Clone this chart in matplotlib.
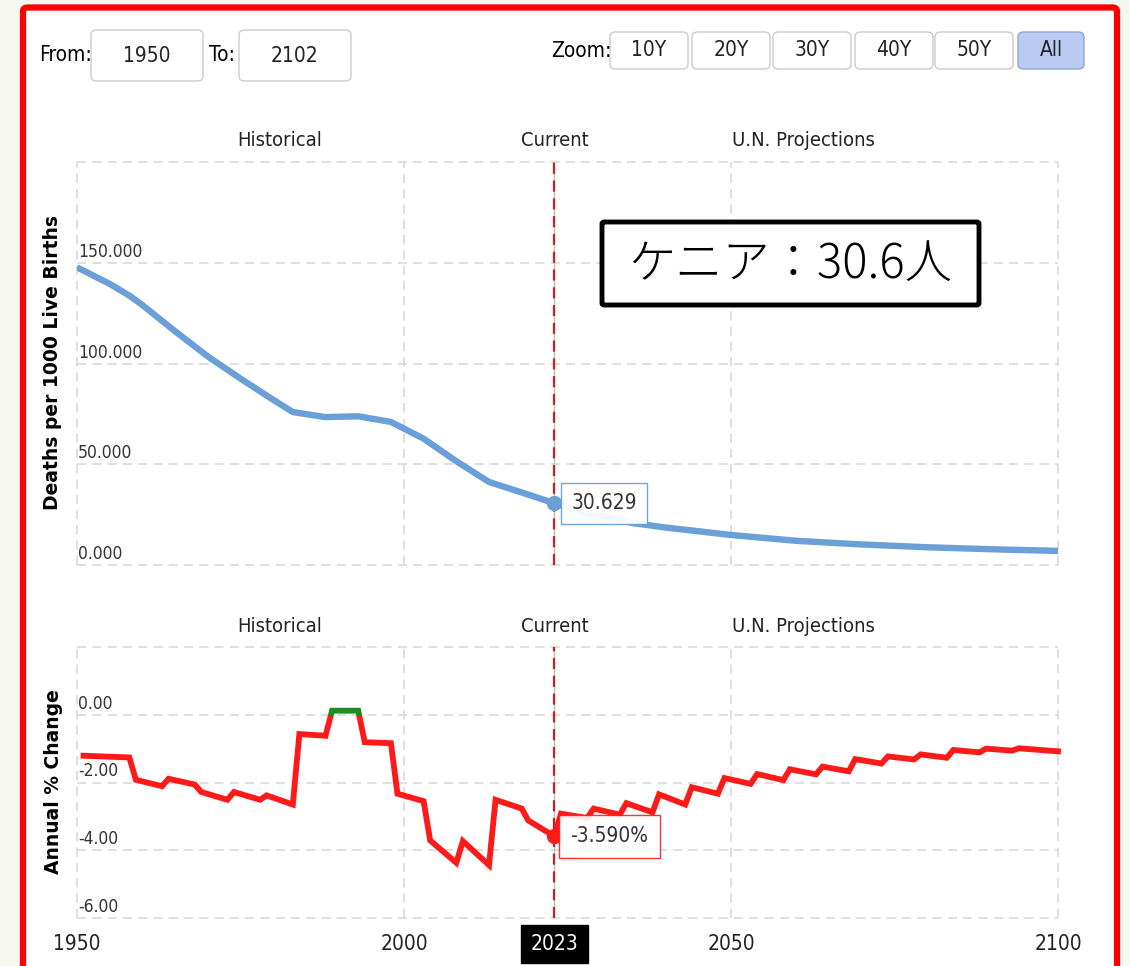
import matplotlib
matplotlib.use("Agg")
import matplotlib.pyplot as plt
from matplotlib.patches import FancyBboxPatch, Rectangle

W, H = 1130, 966

# infant mortality, deaths per 1000 live births
top_years = [1950, 1955, 1958, 1960, 1965, 1970, 1975, 1980, 1983, 1988, 1993, 1998,
             2003, 2008, 2013, 2018, 2023, 2028, 2035, 2040, 2050, 2060, 2070, 2080,
             2090, 2100]
top_vals = [147.7, 139.5, 133.7, 129.0, 116.0, 103.5, 92.5, 82.0, 75.9, 73.4, 73.8, 71.0,
            62.7, 51.5, 41.2, 36.0, 30.629, 25.8, 20.8, 18.6, 14.9, 12.0, 10.2, 8.8,
            7.8, 7.0]

# annual % change
chg_years = [1951, 1958, 1959, 1963, 1964, 1968, 1969, 1973, 1974, 1978,
             1979, 1983, 1984, 1988, 1989, 1993, 1994, 1998, 1999, 2003,
             2004, 2008, 2009, 2013, 2014, 2018, 2019, 2023, 2024, 2028,
             2029, 2033, 2034, 2038, 2039, 2043, 2044, 2048, 2049, 2053,
             2054, 2058, 2059, 2063, 2064, 2068, 2069, 2073, 2074, 2078,
             2079, 2083, 2084, 2088, 2089, 2093, 2094, 2100]
chg_vals = [-1.21, -1.26, -1.92, -2.11, -1.89, -2.06, -2.28, -2.51, -2.28, -2.51,
            -2.38, -2.65, -0.57, -0.62, 0.12, 0.12, -0.81, -0.84, -2.33, -2.55,
            -3.71, -4.37, -3.73, -4.44, -2.51, -2.77, -3.12, -3.59, -2.92, -3.05,
            -2.77, -2.95, -2.61, -2.88, -2.35, -2.65, -2.14, -2.33, -1.87, -2.04,
            -1.75, -1.93, -1.61, -1.76, -1.53, -1.67, -1.31, -1.44, -1.23, -1.32,
            -1.17, -1.27, -1.04, -1.11, -1.00, -1.06, -0.99, -1.08]

current_year = 2023
current_val = 30.629
current_chg = -3.590

x_ticks = [1950, 2000, 2050, 2100]
top_yticks = [0, 50, 100, 150, 200]
top_ylabels = ["0.000", "50.000", "100.000", "150.000"]
chg_yticks = [-6, -4, -2, 0, 2]
chg_ylabels = ["-6.00", "-4.00", "-2.00", "0.00"]

sections = [("Historical", 1981), ("Current", 2023), ("U.N. Projections", 2061)]
zoom_buttons = ["10Y", "20Y", "30Y", "40Y", "50Y", "All"]

NARROW = dict(family=["Liberation Sans Narrow", "DejaVu Sans"], fontstretch="condensed")
BLUE = "#6a9fd8"
RED = "#ff1a1a"
GREEN = "#1f8c1f"
GRID = "#d6d6d6"


def px_box(x0, y0, x1, y1):
    # pixel box (top-left origin) -> figure fraction rect
    return [x0 / W, 1 - y1 / H, (x1 - x0) / W, (y1 - y0) / H]


fig = plt.figure(figsize=(W / 100, H / 100), dpi=100)
fig.patch.set_facecolor("#f5f7f0")

# white card with red frame (behind the axes)
fig.patches.append(FancyBboxPatch((23 / W, -0.05), (1117 - 23) / W, 1 - 7.5 / H + 0.05,
                                  boxstyle="round,pad=0,rounding_size=0.004",
                                  transform=fig.transFigure, fc="white", ec="#ff0000",
                                  lw=4.5, zorder=-5))

# header controls
def ui_box(x0, y0, x1, y1, label, fc="white", ec="#cccccc"):
    fig.patches.append(FancyBboxPatch((x0 / W, 1 - y1 / H), (x1 - x0) / W, (y1 - y0) / H,
                                      boxstyle="round,pad=0,rounding_size=0.005",
                                      transform=fig.transFigure, fc=fc, ec=ec, lw=1))
    fig.text((x0 + x1) / 2 / W, 1 - (y0 + y1) / 2 / H, label, ha="center", va="center",
             fontsize=15, color="#222222", **NARROW)


fig.text(39 / W, 1 - 55 / H, "From:", ha="left", va="center", fontsize=15, **NARROW)
ui_box(91, 30, 203, 81, "1950")
fig.text(209 / W, 1 - 55 / H, "To:", ha="left", va="center", fontsize=15, **NARROW)
ui_box(239, 30, 351, 81, "2102")
fig.text(551 / W, 1 - 51 / H, "Zoom:", ha="left", va="center", fontsize=15, **NARROW)
btn_x = [610, 692, 773, 855, 935, 1018]
for i, lab in enumerate(zoom_buttons):
    if lab == "All":
        ui_box(btn_x[i], 32, btn_x[i] + 66, 69, lab, fc="#b9cbf0", ec="#8ea6d6")
    else:
        ui_box(btn_x[i], 32, btn_x[i] + 78, 69, lab)

ax1 = fig.add_axes(px_box(77, 162, 1058, 565))
ax2 = fig.add_axes(px_box(77, 647, 1058, 918))


def style_axes(ax, yticks, ylabels, ylim, label_dy):
    ax.set_xlim(1950, 2100)
    ax.set_ylim(*ylim)
    ax.patch.set_alpha(0)
    for s in ax.spines.values():
        s.set_visible(False)
    ax.set_xticks([])
    ax.set_yticks([])
    for v in yticks:
        ax.axhline(v, color=GRID, lw=1.1, ls=(0, (6, 4)), zorder=0, clip_on=False)
    for v in x_ticks:
        ax.axvline(v, color=GRID, lw=1.1, ls=(0, (6, 4)), zorder=0, clip_on=False)
    for v, lab in zip(yticks, ylabels):
        ax.annotate(lab, xy=(1950, v), xytext=(1, 2), textcoords="offset pixels",
                    ha="left", va="bottom", fontsize=12.5, color="#333333", **NARROW)
    for name, xpos in sections:
        ax.annotate(name, xy=(xpos, 1), xycoords=("data", "axes fraction"),
                    xytext=(0, label_dy), textcoords="offset pixels",
                    ha="center", va="center", fontsize=14.5, color="#222222", **NARROW)
    # current year marker line
    ax.axvline(current_year, color="#bbbbbb", lw=1, zorder=1)
    ax.axvline(current_year, color="#cc2020", lw=1.6, ls=(0, (5, 3)), zorder=2)


style_axes(ax1, top_yticks, top_ylabels, (0, 200), 21)
style_axes(ax2, chg_yticks, chg_ylabels, (-6, 2), 20)

# top chart
ax1.plot(top_years, top_vals, color=BLUE, lw=4.6, solid_joinstyle="round",
         solid_capstyle="butt", zorder=3)
ax1.plot([current_year], [current_val], "o", color=BLUE, ms=10, zorder=4)
ax1.annotate(f"{current_val:.3f}", xy=(current_year, current_val), xytext=(17, 0),
             textcoords="offset pixels", ha="left", va="center", fontsize=15,
             color="#333333", zorder=5,
             bbox=dict(boxstyle="square,pad=0.5", fc="white", ec=BLUE, lw=1, alpha=0.95),
             **NARROW)

# bottom chart: red below zero, green above
red_line, = ax2.plot(chg_years, chg_vals, color=RED, lw=4.2, solid_joinstyle="miter", zorder=3)
green_line, = ax2.plot(chg_years, chg_vals, color=GREEN, lw=4.2, solid_joinstyle="miter", zorder=3)
red_line.set_clip_path(Rectangle((1940, -10), 200, 10, transform=ax2.transData))
green_line.set_clip_path(Rectangle((1940, 0), 200, 10, transform=ax2.transData))
ax2.plot([current_year], [current_chg], "o", color=RED, ms=10, zorder=4)
ax2.annotate(f"{current_chg:.3f}%", xy=(current_year, current_chg), xytext=(16, 0),
             textcoords="offset pixels", ha="left", va="center", fontsize=15,
             color="#333333", zorder=5,
             bbox=dict(boxstyle="square,pad=0.55", fc="white", ec=RED, lw=1, alpha=0.9),
             **NARROW)

# x axis labels
for v in x_ticks:
    ax2.annotate(str(v), xy=(v, 0), xycoords=("data", "axes fraction"),
                 xytext=(0, -26), textcoords="offset pixels", ha="center", va="center",
                 fontsize=15, color="#222222", **NARROW)
ax2.annotate(str(current_year), xy=(current_year, 0), xycoords=("data", "axes fraction"),
             xytext=(0, -26), textcoords="offset pixels", ha="center", va="center",
             fontsize=15, color="white", zorder=6,
             bbox=dict(boxstyle="square,pad=0.45", fc="black", ec="black"), **NARROW)

# axis titles
fig.text(53 / W, 1 - 362 / H, "Deaths per 1000 Live Births", rotation=90, ha="center",
         va="center", fontsize=13.5, fontweight="bold", family="DejaVu Sans")
fig.text(54 / W, 1 - 782 / H, "Annual % Change", rotation=90, ha="center",
         va="center", fontsize=13.5, fontweight="bold", family="DejaVu Sans")

# big label box
fig.patches.append(FancyBboxPatch((602 / W, 1 - 305 / H), (979 - 602) / W, (305 - 222) / H,
                                  boxstyle="round,pad=0,rounding_size=0.002",
                                  transform=fig.transFigure, fc="white", ec="black", lw=3.5,
                                  zorder=10))
fig.text(790 / W, 1 - 264 / H, "ケニア：30.6人", ha="center", va="center", fontsize=34,
         fontweight="light", family=["Noto Sans CJK JP", "DejaVu Sans"], color="black",
         zorder=11)

fig.savefig("out.png", dpi=100)
